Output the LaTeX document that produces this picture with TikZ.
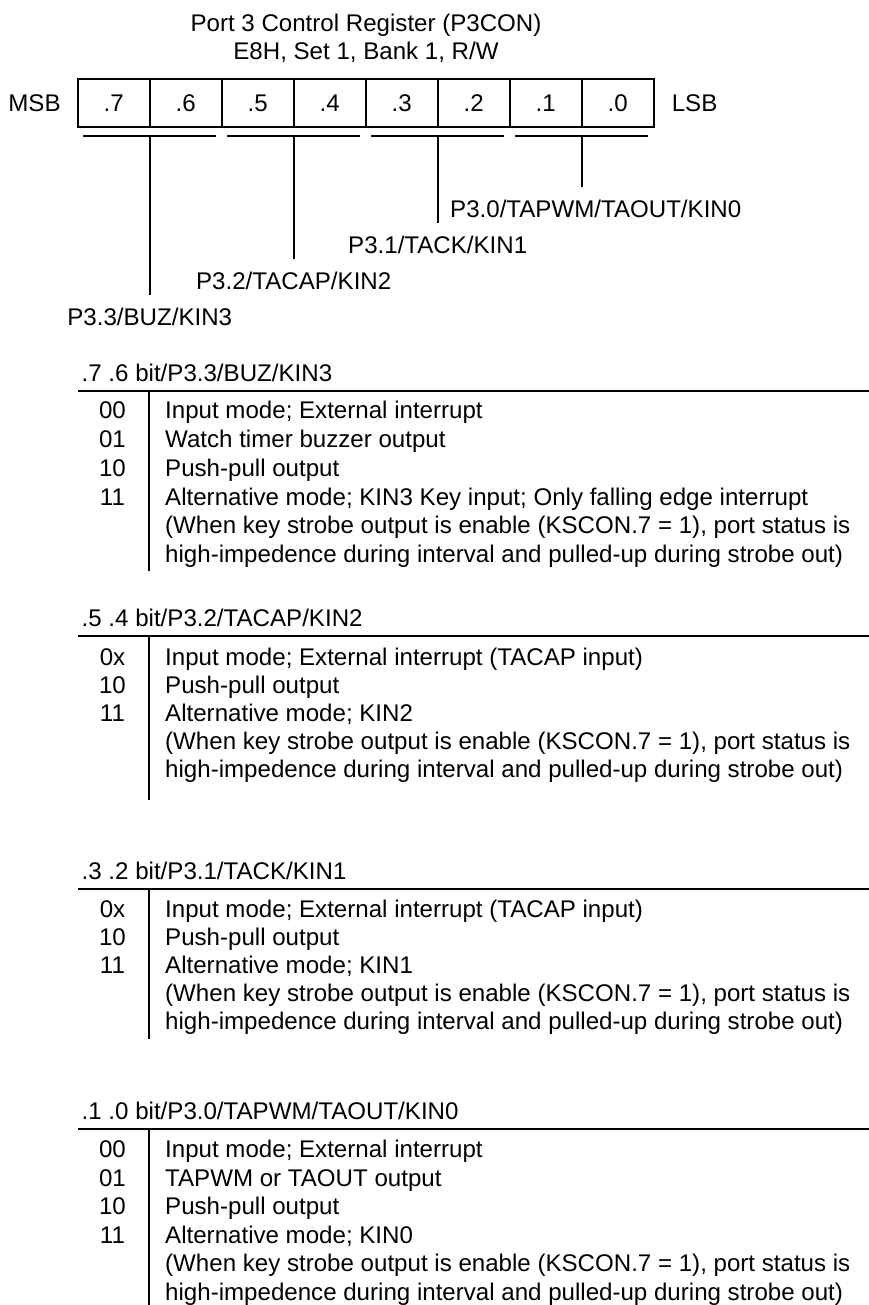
\documentclass[tikz,border=0pt]{standalone}
\usepackage{fontspec}
\setmainfont{Liberation Sans}
\newcommand\myrowc[4]{%
  \node[codetxt] (#1c) at (112.5,#2) {#3};
  \node[desctxt] (#1t) at (165,#2) {#4};}
\newcommand\myrowt[3]{%
  \node[desctxt] (#1t) at (165,#2) {#3};}
\tikzset{
  txt/.style={inner sep=0pt, anchor=base},
  codetxt/.style={txt, anchor=base},
  desctxt/.style={txt, anchor=base west},
  hdrtxt/.style={txt, anchor=base west},
  cell/.style={draw, line width=1.8pt, minimum width=72pt, minimum height=48pt,
    inner sep=0pt, text height=17.2pt, text depth=0pt},
  sidetxt/.style={inner sep=0pt, text height=17.2pt, text depth=0pt},
  pinlab/.style={inner xsep=0pt, inner ysep=13.3pt, anchor=north,
    text height=17.2pt, text depth=5pt},
  ln/.style={line width=1.8pt},
  rulel/.style={line width=2.4pt}
}
\begin{document}
\begin{tikzpicture}[x=1pt, y=-1pt, font=\fontsize{24.1}{28}\selectfont]
\useasboundingbox (0,0) rectangle (869,1305);
% title
\node[txt] (t1) at (366,31.7) {Port 3 Control Register (P3CON)};
\node[txt] (t2) at (366,59.3) {E8H, Set 1, Bank 1, R/W};
% register cells
\foreach \t [count=\i from 0] in {.7,.6,.5,.4,.3,.2,.1,.0}{
  \pgfmathtruncatemacro\b{7-\i}
  \node[cell] (b\b) at ({113.7+72*\i},103) {\t};
}
\node[sidetxt, anchor=east] (msb) at ([xshift=-16pt]b7.west) {MSB};
\node[sidetxt, anchor=west] (lsb) at ([xshift=17pt]b0.east) {LSB};
% underlines and pins
\foreach \k in {0,1,2,3}{
  \draw[ln] ({77.7+144*\k+5.5},136) -- ({77.7+144*(\k+1)-6},136);
  \coordinate (u\k) at ({149.7+144*\k},136);
}
\node[pinlab] (l3) at (149.7,295) {P3.3/BUZ/KIN3};
\node[pinlab] (l2) at (293.7,259) {P3.2/TACAP/KIN2};
\node[pinlab] (l1) at (437.7,223.3) {P3.1/TACK/KIN1};
\node[pinlab, xshift=14pt] (l0) at (581.7,186.7) {P3.0/TAPWM/TAOUT/KIN0};
\draw[ln] (u0) -- (u0 |- l3.north);
\draw[ln] (u1) -- (u1 |- l2.north);
\draw[ln] (u2) -- (u2 |- l1.north);
\draw[ln] (u3) -- (u3 |- l0.north);
% section 1
\node[hdrtxt] (s1h) at (81.5,381) {.7 .6 bit/P3.3/BUZ/KIN3};
\draw[rulel] (78,391) -- (869,391);
\draw[ln] (149.3,391) -- (149.3,570.7);
\myrowc{s1a}{418.6}{00}{Input mode; External interrupt}
\myrowc{s1b}{447.4}{01}{Watch timer buzzer output}
\myrowc{s1c}{476.2}{10}{Push-pull output}
\myrowc{s1d}{505}{11}{Alternative mode; KIN3 Key input; Only falling edge interrupt}
\myrowt{s1e}{533.8}{(When key strobe output is enable (KSCON.7 = 1), port status is}
\myrowt{s1f}{562.6}{high-impedence during interval and pulled-up during strobe out)}
% section 2
\node[hdrtxt] (s2h) at (81.5,626) {.5 .4 bit/P3.2/TACAP/KIN2};
\draw[rulel] (78,636) -- (869,636);
\draw[ln] (149.3,636) -- (149.3,800);
\myrowc{s2a}{665}{0x}{Input mode; External interrupt (TACAP input)}
\myrowc{s2b}{693.2}{10}{Push-pull output}
\myrowc{s2c}{721.4}{11}{Alternative mode; KIN2}
\myrowt{s2d}{749.6}{(When key strobe output is enable (KSCON.7 = 1), port status is}
\myrowt{s2e}{777.8}{high-impedence during interval and pulled-up during strobe out)}
% section 3
\node[hdrtxt] (s3h) at (81.5,879) {.3 .2 bit/P3.1/TACK/KIN1};
\draw[rulel] (78,889) -- (869,889);
\draw[ln] (149.3,889) -- (149.3,1039);
\myrowc{s3a}{917.5}{0x}{Input mode; External interrupt (TACAP input)}
\myrowc{s3b}{945.5}{10}{Push-pull output}
\myrowc{s3c}{973.5}{11}{Alternative mode; KIN1}
\myrowt{s3d}{1001.5}{(When key strobe output is enable (KSCON.7 = 1), port status is}
\myrowt{s3e}{1029.5}{high-impedence during interval and pulled-up during strobe out)}
% section 4
\node[hdrtxt] (s4h) at (81.5,1119) {.1 .0 bit/P3.0/TAPWM/TAOUT/KIN0};
\draw[rulel] (78,1129) -- (869,1129);
\draw[ln] (149.3,1129) -- (149.3,1305);
\myrowc{s4a}{1157.5}{00}{Input mode; External interrupt}
\myrowc{s4b}{1186.1}{01}{TAPWM or TAOUT output}
\myrowc{s4c}{1214.7}{10}{Push-pull output}
\myrowc{s4d}{1243.3}{11}{Alternative mode; KIN0}
\myrowt{s4e}{1271.9}{(When key strobe output is enable (KSCON.7 = 1), port status is}
\myrowt{s4f}{1300.5}{high-impedence during interval and pulled-up during strobe out)}
\end{tikzpicture}
\end{document}
